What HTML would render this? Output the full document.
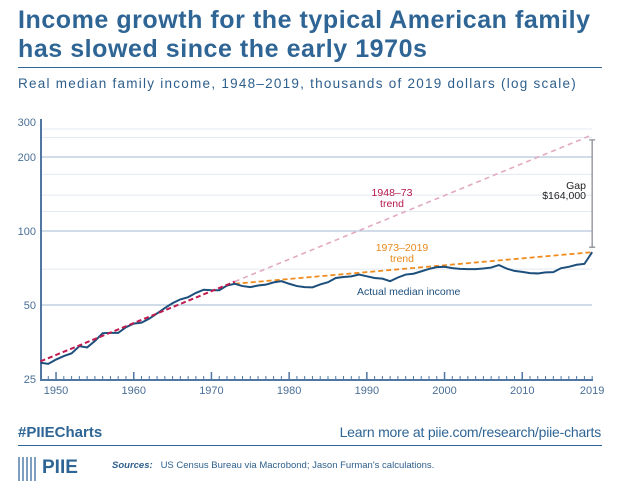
<!DOCTYPE html>
<html><head><meta charset="utf-8"><style>
body{margin:0;background:#fff;font-family:"Liberation Sans",sans-serif;}
#wrap{position:relative;width:620px;height:495px;overflow:hidden;}
.t{position:absolute;white-space:nowrap;}
</style></head><body>
<div id="wrap">
<div class="t" style="left:18px;top:6px;font-size:25px;font-weight:bold;color:#2e6595;line-height:29px;letter-spacing:0.55px">Income growth for the typical American family<br>has slowed since the early 1970s</div>
<div style="position:absolute;left:18px;top:67px;width:584px;height:1px;background:#2e6595"></div>
<div class="t" style="left:18px;top:76px;font-size:13.5px;color:#2e5f8c;letter-spacing:1.25px">Real median family income, 1948–2019, thousands of 2019 dollars (log scale)</div>
<svg id="chart" width="620" height="495" style="position:absolute;left:0;top:0"></svg>
<div class="t" style="left:18px;top:424px;font-size:15px;font-weight:bold;color:#2e6595">#PIIECharts</div>
<div class="t" style="right:19px;top:424px;font-size:14px;color:#2e6595;letter-spacing:-0.2px">Learn more at piie.com/research/piie-charts</div>
<div style="position:absolute;left:18px;top:445px;width:584px;height:1px;background:#2e6595"></div>
<div style="position:absolute;left:18px;top:457px;width:20px;height:24px;background:repeating-linear-gradient(90deg,#7f9fc0 0 2px,#fff 2px 4px)"></div>
<div class="t" style="left:42px;top:457px;font-size:19px;font-weight:bold;color:#2e6595">PIIE</div>
<div class="t" style="left:112px;top:460px;font-size:9.5px;color:#2e5f8c"><b><i>Sources:</i></b>&nbsp;&nbsp; US Census Bureau via Macrobond; Jason Furman's calculations.</div>
</div>
<script>
const years=[];for(let y=1948;y<=2019;y++)years.push(y);
const income=[29.1,28.8,30.0,31.0,31.8,34.0,33.6,35.7,38.4,38.5,38.5,40.6,42.0,42.4,44.0,46.2,48.6,50.9,52.7,53.8,56.0,57.7,57.4,57.4,60.0,61.0,59.7,59.1,60.0,60.5,61.8,62.5,61.0,59.7,59.1,59.0,60.6,61.9,64.4,65.0,65.4,66.5,65.4,64.4,64.0,62.5,64.7,66.5,67.0,68.5,70.1,71.3,71.5,70.6,70.1,70.0,70.0,70.4,71.0,72.7,70.3,68.8,68.2,67.4,67.2,67.9,68.0,70.6,71.5,72.9,73.5,82.0];
const trend1Years=[1948,2019];const trend1Values=[29.5,246];
const trend2Years=[1973,2019];const trend2Values=[61,82];
const yTicks=[25,50,100,200,300];
const yMinor=[70,120,140,170,240,260];
const xTicks=[1950,1960,1970,1980,1990,2000,2010,2019];
const X=y=>40.5+(y-1948)*7.77;
const Y=v=>231-74*Math.log2(v/100);
const svg=document.getElementById('chart');const NS='http://www.w3.org/2000/svg';
function mk(t,a,p){const e=document.createElementNS(NS,t);for(const k in a)e.setAttribute(k,a[k]);(p||svg).appendChild(e);return e;}
yMinor.forEach(v=>{const l=mk('line',{x1:41,x2:592,y1:Y(v),y2:Y(v),stroke:'#e3eaf2','stroke-width':1});

});
yTicks.forEach(v=>{const yy=v===300?122:Y(v);
if(v!==25&&v!==300){const l=mk('line',{x1:41,x2:592,y1:yy,y2:yy,stroke:'#b3c6da','stroke-width':1.2});

}
const t=mk('text',{x:36,y:yy+4,'text-anchor':'end','font-size':11,fill:'#4a6f96','font-family':'Liberation Sans'});t.textContent=v;

});
const ax=mk('line',{x1:41,x2:41,y1:119,y2:380,stroke:'#4f77a2','stroke-width':2});


const bx=mk('line',{x1:40,x2:593,y1:380,y2:380,stroke:'#4f77a2','stroke-width':2});


years.forEach(y=>{const major=y%10===0;const l=mk('line',{x1:X(y),x2:X(y),y1:380,y2:major?372:376,stroke:'#4f77a2','stroke-width':major?1.5:1});

});
xTicks.forEach(y=>{const t=mk('text',{x:X(y),y:394,'text-anchor':'middle','font-size':11,fill:'#4a6f96','font-family':'Liberation Sans'});t.textContent=y;

});
const tv=y=>trend1Values[0]*Math.pow(trend1Values[1]/trend1Values[0],(y-trend1Years[0])/(trend1Years[1]-trend1Years[0]));
const p1=mk('line',{x1:X(1973),y1:Y(tv(1973)),x2:X(trend1Years[1]),y2:Y(trend1Values[1]),stroke:'#e2a9c2','stroke-width':1.6,'stroke-dasharray':'5,4'});


const p2=mk('line',{x1:X(trend2Years[0]),y1:Y(trend2Values[0]),x2:X(trend2Years[1]),y2:Y(trend2Values[1]),stroke:'#f08c1e','stroke-width':1.8,'stroke-dasharray':'5,3'});


const ln=mk('polyline',{points:years.map((y,i)=>X(y)+','+Y(income[i])).join(' '),fill:'none',stroke:'#1d4f7c','stroke-width':2});


const p0=mk('line',{x1:X(trend1Years[0]),y1:Y(trend1Values[0]),x2:X(1973),y2:Y(tv(1973)),stroke:'#c01a4e','stroke-width':2,'stroke-dasharray':'5,3'});


const gx=X(2019),gt=Y(trend1Values[1])+5,gb=Y(trend2Values[1])-5;
const g=mk('path',{d:`M${gx-3},${gt}H${gx+3}M${gx},${gt}V${gb}M${gx-3},${gb}H${gx+3}`,stroke:'#8a8f96','stroke-width':1.3,fill:'none'});


function lab(txt,x,y,c,anchor,name){const t=mk('text',{x:x,y:y,'text-anchor':anchor,'font-size':10.5,fill:c,'font-family':'Liberation Sans'});t.textContent=txt;

}
lab('1948–73',392,196,'#b5174b','middle','trend-1948-73-label');
lab('trend',392,207,'#b5174b','middle','trend-1948-73-label');
lab('1973–2019',402,251,'#e8891c','middle','trend-1973-2019-label');
lab('trend',402,262,'#e8891c','middle','trend-1973-2019-label');
lab('Actual median income',357,295,'#1d4f7c','start','actual-income-label');
lab('Gap',586,189,'#222','end','gap-label');
lab('$164,000',586,199,'#222','end','gap-value-label');
</script>
</body></html>
